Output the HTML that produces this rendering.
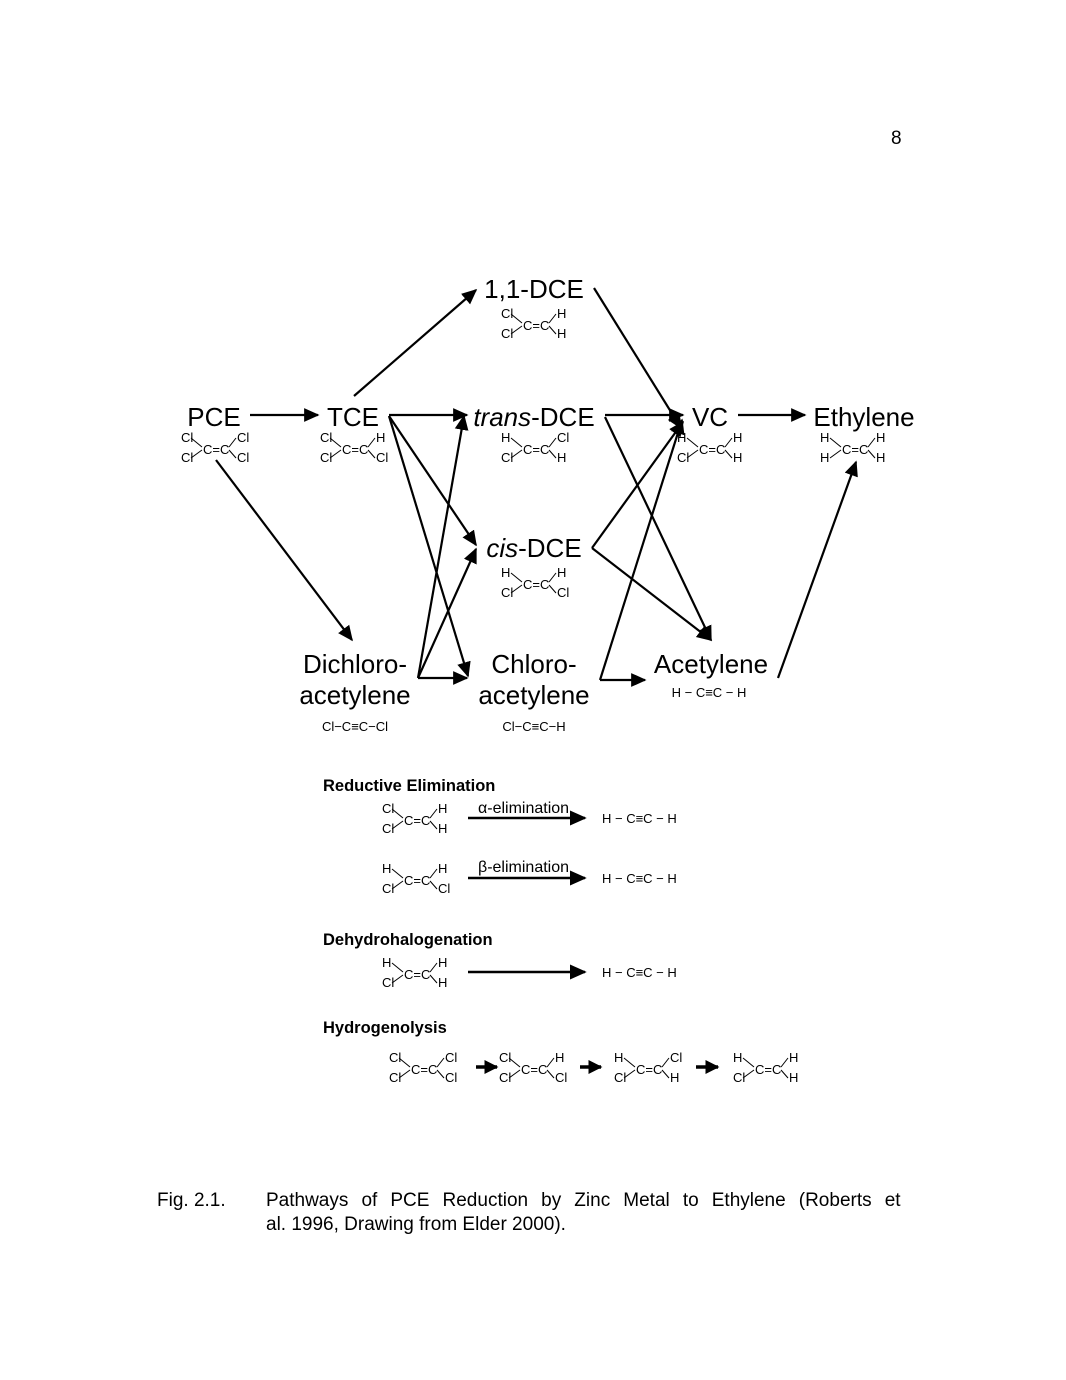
<!DOCTYPE html>
<html><head><meta charset="utf-8"><style>
html,body{margin:0;padding:0;background:#fff;}
svg{display:block;}
text{font-family:"Liberation Sans",Arial,sans-serif;fill:#000;}
.m text{font-size:13px;}
.m line{stroke:#000;stroke-width:1;}
.big{font-size:26px;}
</style></head><body>
<svg width="1066" height="1380" viewBox="0 0 1066 1380" xmlns="http://www.w3.org/2000/svg">
<defs>
<marker id="a" viewBox="0 0 10 10" refX="9" refY="5" markerWidth="7" markerHeight="7" markerUnits="strokeWidth" orient="auto"><path d="M0,0.5 L10,5 L0,9.5 z" fill="#000"/></marker>
<marker id="b" viewBox="0 0 10 10" refX="9" refY="5" markerWidth="4" markerHeight="4" markerUnits="strokeWidth" orient="auto"><path d="M0,0 L10,5 L0,10 z" fill="#000"/></marker>
<g id="bonds">
<line x1="10" y1="-4" x2="21" y2="5" stroke="#000" stroke-width="1"/>
<line x1="10" y1="16" x2="21" y2="8" stroke="#000" stroke-width="1"/>
<line x1="48" y1="5" x2="55" y2="-4" stroke="#000" stroke-width="1"/>
<line x1="48" y1="8" x2="55" y2="16" stroke="#000" stroke-width="1"/>
</g>
</defs>

<text x="891" y="144" font-size="19">8</text>

<text class="big" x="214" y="426" text-anchor="middle">PCE</text>
<text class="big" x="353" y="426" text-anchor="middle">TCE</text>
<text class="big" x="534" y="298" text-anchor="middle">1,1-DCE</text>
<text class="big" x="534" y="426" text-anchor="middle"><tspan font-style="italic">trans</tspan>-DCE</text>
<text class="big" x="710" y="426" text-anchor="middle">VC</text>
<text class="big" x="864" y="426" text-anchor="middle">Ethylene</text>
<text class="big" x="534" y="557" text-anchor="middle"><tspan font-style="italic">cis</tspan>-DCE</text>
<text class="big" x="355" y="673" text-anchor="middle">Dichloro-</text>
<text class="big" x="355" y="704" text-anchor="middle">acetylene</text>
<text class="big" x="534" y="673" text-anchor="middle">Chloro-</text>
<text class="big" x="534" y="704" text-anchor="middle">acetylene</text>
<text class="big" x="711" y="673" text-anchor="middle">Acetylene</text>
<text x="355" y="731" font-size="13" text-anchor="middle">Cl−C≡C−Cl</text>
<text x="534" y="731" font-size="13" text-anchor="middle">Cl−C≡C−H</text>
<text x="709" y="697" font-size="13" text-anchor="middle">H − C≡C − H</text>

<g class="m" transform="translate(181,442)"><text x="0" y="0">Cl</text><text x="0" y="20">Cl</text><text x="22" y="12">C=C</text><text x="56" y="0">Cl</text><text x="56" y="20">Cl</text><use href="#bonds"/></g>
<g class="m" transform="translate(320,442)"><text x="0" y="0">Cl</text><text x="0" y="20">Cl</text><text x="22" y="12">C=C</text><text x="56" y="0">H</text><text x="56" y="20">Cl</text><use href="#bonds"/></g>
<g class="m" transform="translate(501,318)"><text x="0" y="0">Cl</text><text x="0" y="20">Cl</text><text x="22" y="12">C=C</text><text x="56" y="0">H</text><text x="56" y="20">H</text><use href="#bonds"/></g>
<g class="m" transform="translate(501,442)"><text x="0" y="0">H</text><text x="0" y="20">Cl</text><text x="22" y="12">C=C</text><text x="56" y="0">Cl</text><text x="56" y="20">H</text><use href="#bonds"/></g>
<g class="m" transform="translate(501,577)"><text x="0" y="0">H</text><text x="0" y="20">Cl</text><text x="22" y="12">C=C</text><text x="56" y="0">H</text><text x="56" y="20">Cl</text><use href="#bonds"/></g>
<g class="m" transform="translate(677,442)"><text x="0" y="0">H</text><text x="0" y="20">Cl</text><text x="22" y="12">C=C</text><text x="56" y="0">H</text><text x="56" y="20">H</text><use href="#bonds"/></g>
<g class="m" transform="translate(820,442)"><text x="0" y="0">H</text><text x="0" y="20">H</text><text x="22" y="12">C=C</text><text x="56" y="0">H</text><text x="56" y="20">H</text><use href="#bonds"/></g>

<g stroke="#000" stroke-width="2.2" fill="none" marker-end="url(#a)">
<line x1="250" y1="415" x2="318" y2="415"/>
<line x1="354" y1="396" x2="476" y2="290"/>
<line x1="389" y1="415" x2="467" y2="415"/>
<line x1="389" y1="416" x2="476" y2="545"/>
<line x1="389" y1="416" x2="468" y2="676"/>
<line x1="216" y1="460" x2="352" y2="640"/>
<line x1="418" y1="678" x2="464" y2="416"/>
<line x1="418" y1="678" x2="476" y2="549"/>
<line x1="418" y1="678" x2="467" y2="678"/>
<line x1="594" y1="288" x2="681" y2="428"/>
<line x1="605" y1="415" x2="683" y2="415"/>
<line x1="605" y1="417" x2="711" y2="640"/>
<line x1="592" y1="548" x2="683" y2="422"/>
<line x1="592" y1="548" x2="711" y2="640"/>
<line x1="600" y1="680" x2="682" y2="420"/>
<line x1="600" y1="680" x2="645" y2="680"/>
<line x1="738" y1="415" x2="805" y2="415"/>
<line x1="778" y1="678" x2="856" y2="462"/>
</g>

<text x="323" y="791" font-size="16.5" font-weight="bold">Reductive Elimination</text>
<g class="m" transform="translate(382,813)"><text x="0" y="0">Cl</text><text x="0" y="20">Cl</text><text x="22" y="12">C=C</text><text x="56" y="0">H</text><text x="56" y="20">H</text><use href="#bonds"/></g>
<text x="478" y="813" font-size="16">α-elimination</text>
<line x1="468" y1="818" x2="585" y2="818" stroke="#000" stroke-width="2.4" marker-end="url(#a)"/>
<text x="602" y="823" font-size="13">H − C≡C − H</text>

<g class="m" transform="translate(382,873)"><text x="0" y="0">H</text><text x="0" y="20">Cl</text><text x="22" y="12">C=C</text><text x="56" y="0">H</text><text x="56" y="20">Cl</text><use href="#bonds"/></g>
<text x="478" y="872" font-size="16">β-elimination</text>
<line x1="468" y1="878" x2="585" y2="878" stroke="#000" stroke-width="2.4" marker-end="url(#a)"/>
<text x="602" y="883" font-size="13">H − C≡C − H</text>

<text x="323" y="945" font-size="16.5" font-weight="bold">Dehydrohalogenation</text>
<g class="m" transform="translate(382,967)"><text x="0" y="0">H</text><text x="0" y="20">Cl</text><text x="22" y="12">C=C</text><text x="56" y="0">H</text><text x="56" y="20">H</text><use href="#bonds"/></g>
<line x1="468" y1="972" x2="585" y2="972" stroke="#000" stroke-width="2.4" marker-end="url(#a)"/>
<text x="602" y="977" font-size="13">H − C≡C − H</text>

<text x="323" y="1033" font-size="16.5" font-weight="bold">Hydrogenolysis</text>
<g class="m" transform="translate(389,1062)"><text x="0" y="0">Cl</text><text x="0" y="20">Cl</text><text x="22" y="12">C=C</text><text x="56" y="0">Cl</text><text x="56" y="20">Cl</text><use href="#bonds"/></g>
<g class="m" transform="translate(499,1062)"><text x="0" y="0">Cl</text><text x="0" y="20">Cl</text><text x="22" y="12">C=C</text><text x="56" y="0">H</text><text x="56" y="20">Cl</text><use href="#bonds"/></g>
<g class="m" transform="translate(614,1062)"><text x="0" y="0">H</text><text x="0" y="20">Cl</text><text x="22" y="12">C=C</text><text x="56" y="0">Cl</text><text x="56" y="20">H</text><use href="#bonds"/></g>
<g class="m" transform="translate(733,1062)"><text x="0" y="0">H</text><text x="0" y="20">Cl</text><text x="22" y="12">C=C</text><text x="56" y="0">H</text><text x="56" y="20">H</text><use href="#bonds"/></g>
<g stroke="#000" stroke-width="3.5" marker-end="url(#b)">
<line x1="476" y1="1067" x2="497" y2="1067"/>
<line x1="580" y1="1067" x2="601" y2="1067"/>
<line x1="696" y1="1067" x2="718" y2="1067"/>
</g>

<text x="157" y="1206" font-size="19">Fig. 2.1.</text>
<text x="266" y="1206" font-size="19" word-spacing="7.8">Pathways of PCE Reduction by Zinc Metal to Ethylene (Roberts et</text>
<text x="266" y="1230" font-size="19">al. 1996, Drawing from Elder 2000).</text>
</svg>
</body></html>
